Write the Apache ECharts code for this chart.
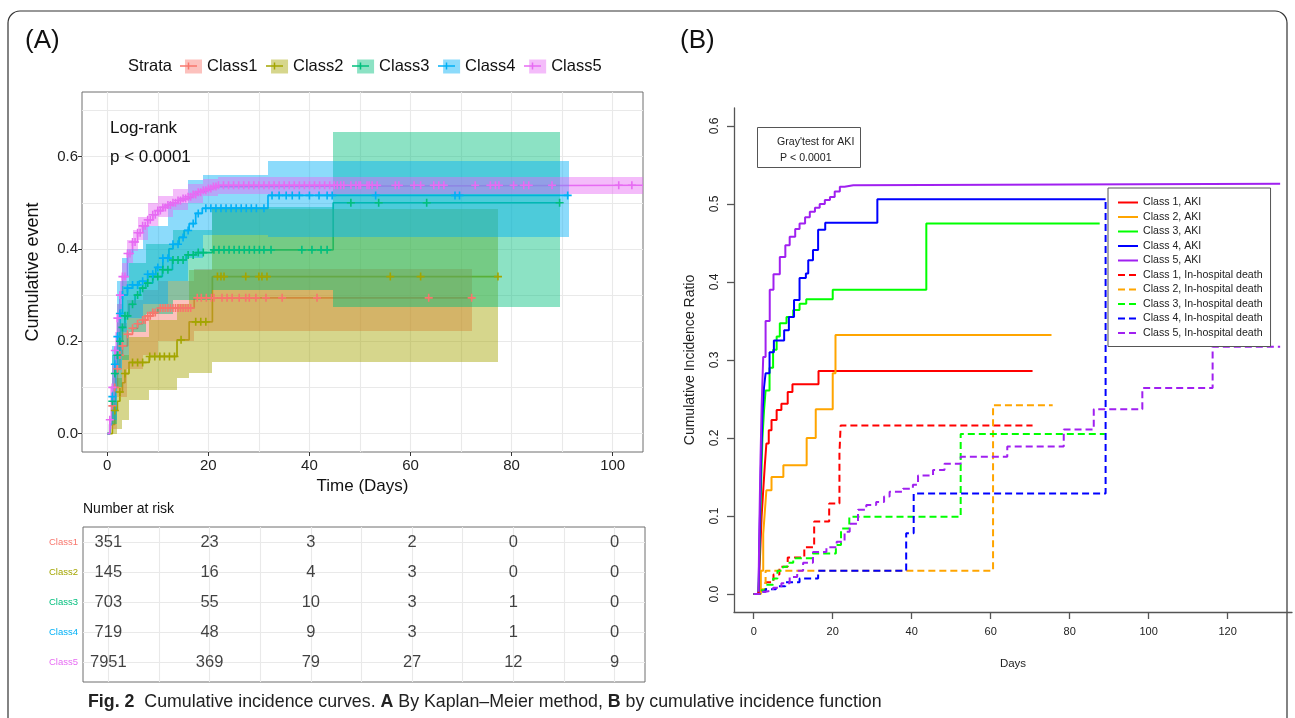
<!DOCTYPE html>
<html><head><meta charset="utf-8">
<script src="https://cdn.jsdelivr.net/npm/echarts@6/dist/echarts.min.js"></script>
<style>html,body{margin:0;padding:0;background:#fff}#c{width:1295px;height:718px}</style>
</head><body><div id="c"></div>
<script>
// ---------------- Panel A: Kaplan–Meier ----------------
const classNames = ['Class1', 'Class2', 'Class3', 'Class4', 'Class5'];
const colorsA = ['#F8766D', '#A3A500', '#00BF7D', '#00B0F6', '#E76BF3'];
const xTicksA = [0, 20, 40, 60, 80, 100];
const yTicksA = [0, 0.2, 0.4, 0.6];
const xGridA = [0, 10, 20, 30, 40, 50, 60, 70, 80, 90, 100];
const yGridA = [0, 0.1, 0.2, 0.3, 0.4, 0.5, 0.6, 0.7];

const kmClass1 = [[0,0],[0.5,0.02],[1,0.06],[1.5,0.1],[2,0.14],[2.5,0.17],[3,0.19],[4,0.215],[5,0.228],[6,0.238],[7,0.246],[8,0.255],[9,0.262],[10,0.272],[17.2,0.294],[72.2,0.294]];
const kmClass2 = [[0,0],[1,0.02],[1.5,0.05],[2,0.07],[2.5,0.09],[3,0.11],[3.5,0.13],[4.3,0.154],[8.3,0.167],[13.8,0.203],[16.2,0.242],[20.8,0.34],[77.4,0.34]];
const kmClass3 = [[0,0],[0.5,0.02],[1,0.07],[1.5,0.13],[2,0.17],[2.5,0.2],[3,0.23],[3.5,0.255],[4.3,0.28],[5.5,0.3],[6.5,0.315],[7.6,0.326],[9,0.34],[10.9,0.355],[12.9,0.376],[15.6,0.387],[17.5,0.392],[20.8,0.398],[44.7,0.5],[89.5,0.5]];
const kmClass4 = [[0,0],[0.5,0.02],[1,0.08],[1.5,0.15],[2,0.21],[2.5,0.26],[3,0.3],[4,0.315],[5,0.322],[6.3,0.33],[8,0.345],[9.6,0.36],[11,0.38],[12.2,0.4],[13,0.41],[14.2,0.425],[15.2,0.44],[16.2,0.455],[17.5,0.477],[18.8,0.488],[31.8,0.516],[91.3,0.516]];
const kmClass5 = [[0,0],[0.5,0.03],[1,0.1],[1.5,0.18],[2,0.25],[2.5,0.3],[3,0.34],[4,0.39],[5,0.415],[6,0.435],[7,0.45],[8,0.463],[9,0.474],[10,0.483],[11,0.49],[12,0.495],[13,0.5],[14,0.505],[15,0.509],[16,0.513],[17,0.518],[18,0.523],[19,0.527],[20,0.531],[21,0.535],[22,0.538],[106,0.538]];

// confidence bands: [from, to, lower, upper]
const bandClass1 = [[1,2,0.01,0.12],[2,4,0.08,0.24],[4,7,0.14,0.29],[7,10,0.17,0.31],[10,17.2,0.2,0.33],[17.2,72.2,0.223,0.357]];
const bandClass2 = [[1,2,0,0.06],[2,3,0.01,0.12],[3,4.3,0.03,0.17],[4.3,8.3,0.073,0.21],[8.3,13.8,0.095,0.245],[13.8,16.2,0.12,0.28],[16.2,20.8,0.132,0.355],[20.8,77.4,0.156,0.486]];
const bandClass3 = [[1,2,0.02,0.17],[2,3,0.1,0.28],[3,4.3,0.16,0.33],[4.3,7.6,0.22,0.37],[7.6,13,0.26,0.41],[13,20.8,0.29,0.44],[20.8,44.7,0.31,0.49],[44.7,89.5,0.275,0.653]];
const bandClass4 = [[1,2,0.03,0.19],[2,3,0.14,0.33],[3,4,0.22,0.38],[4,7,0.25,0.4],[7,12,0.28,0.45],[12,16,0.33,0.5],[16,19,0.38,0.55],[19,31.8,0.43,0.56],[31.8,91.3,0.426,0.59]];
const bandClass5 = [[0.5,1,0.01,0.1],[1,1.5,0.07,0.15],[1.5,2,0.14,0.22],[2,2.5,0.22,0.28],[2.5,3,0.27,0.33],[3,4,0.32,0.37],[4,5,0.37,0.42],[5,6,0.395,0.44],[6,8,0.42,0.47],[8,10,0.45,0.5],[10,13,0.47,0.515],[13,16,0.485,0.53],[16,19,0.5,0.54],[19,22,0.515,0.552],[22,106,0.52,0.556]];

// censoring times
const censorClass1 = [1,1.5,2,2.5,3,4,5,6,7,7.5,8,8.5,9,9.5,10.5,11,11.5,12,12.5,13,13.5,14,14.5,15,15.5,16,16.5,17.8,18.6,19.6,20.6,21.1,22.7,23.7,24.7,26.1,27.4,28.1,29.4,31.4,34.6,41.5,63.6,72.1];
const censorClass2 = [1.5,2.5,3.5,5,6,7,8.4,9.4,10.4,11.3,12.3,13.3,14.6,17.5,18.5,19.5,21.8,22.5,23.1,27.4,30,30.6,31.6,56,62,77.3];
const censorClass3 = [1,1.5,2,2.5,3,3.5,4,5,6,7,8,9,10,11,12,13,14,15,16,17,18,19,21.1,22.1,23.1,24.1,25.1,26.1,27.1,28.1,29.1,30.1,31,32.4,38.5,40.5,42.3,43.5,48.2,53.7,63.2,89.5];
const censorClass4 = [1,1.5,2,2.5,3,4,5,6,7,8,9,10,11,12,13,14,15,16,17,18,19.5,20.5,21.5,22.5,23.5,24.5,25.5,26.5,27.5,28.5,29.5,31,32.6,34,35.4,36.6,38,40,41.9,43.5,44.5,53.1,68.8,69.7,91.1];
const censorClass5 = [0.5,1,1.5,2,2.5,3,3.5,4,4.5,5,5.5,6,6.5,7,7.5,8,8.5,9,9.5,10,10.5,11,11.5,12,12.5,13,13.5,14,14.5,15,15.5,16,16.5,17,17.5,18,18.5,19,19.5,20,20.5,21,21.5,22,23,24,25,26,27,28,29,30,31,32,33,34,35,36,37,38,39,40,41,42,43,44,44.9,45.5,46.2,46.8,48.2,49.2,49.8,50.1,51.4,51.8,52.4,53.4,57,57.7,60.7,62,64.6,65.6,66.6,72.8,75.8,76.8,77.5,80.4,82.4,83.4,88,101.2,103.8];

// number at risk
const riskTimes = [0, 20, 40, 60, 80, 100];
const riskClass1 = [351, 23, 3, 2, 0, 0];
const riskClass2 = [145, 16, 4, 3, 0, 0];
const riskClass3 = [703, 55, 10, 3, 1, 0];
const riskClass4 = [719, 48, 9, 3, 1, 0];
const riskClass5 = [7951, 369, 79, 27, 12, 9];

// ---------------- Panel B: cumulative incidence ----------------
const namesB = ['Class 1, AKI','Class 2, AKI','Class 3, AKI','Class 4, AKI','Class 5, AKI',
  'Class 1, In-hospital death','Class 2, In-hospital death','Class 3, In-hospital death','Class 4, In-hospital death','Class 5, In-hospital death'];
const colorsB = ['#FF0000','#FFA500','#00FF00','#0000FF','#A020F0'];
const xTicksB = [0, 20, 40, 60, 80, 100, 120];
const yTicksB = [0, 0.1, 0.2, 0.3, 0.4, 0.5, 0.6];

const akiClass1 = [[0,0],[1.2,0],[1.6,0.05],[2,0.1],[2.4,0.133],[2.8,0.165],[3.2,0.193],[3.8,0.21],[4.5,0.223],[5.8,0.236],[7,0.244],[8.6,0.259],[9.8,0.269],[16.4,0.286],[70.6,0.286]];
const akiClass2 = [[0,0],[1.2,0],[1.8,0.03],[2.4,0.077],[2.8,0.105],[3.2,0.133],[4.5,0.15],[7.5,0.165],[13.4,0.2],[15.7,0.237],[20,0.283],[20.7,0.332],[75.4,0.332]];
const akiClass3 = [[0,0],[1.2,0],[1.5,0.06],[1.8,0.13],[2.2,0.2],[2.6,0.235],[3,0.261],[4,0.29],[4.9,0.313],[5.8,0.33],[6.6,0.347],[8.3,0.355],[10,0.364],[11.6,0.372],[13.3,0.378],[20,0.39],[43.7,0.475],[87.6,0.475]];
const akiClass4 = [[0,0],[1.2,0],[1.5,0.08],[1.8,0.16],[2.2,0.23],[2.6,0.265],[3,0.283],[4,0.31],[5.1,0.325],[7.7,0.338],[8.9,0.355],[10.2,0.377],[11.6,0.405],[13.2,0.411],[13.8,0.428],[15,0.441],[16.3,0.467],[18.1,0.476],[31.3,0.506],[89.1,0.506]];
const akiClass5 = [[0,0],[1.2,0],[1.4,0.08],[1.7,0.17],[2,0.24],[2.4,0.304],[3,0.35],[4.05,0.39],[5,0.41],[6.6,0.432],[8,0.447],[9.1,0.458],[10.5,0.468],[11.6,0.475],[13,0.483],[14.2,0.49],[15.5,0.495],[16.7,0.5],[18,0.505],[19.3,0.509],[20.5,0.516],[21.8,0.522],[23,0.524],[25.2,0.526],[133.3,0.526]];
const deathClass1 = [[0,0],[1.2,0.005],[3,0.015],[5,0.025],[6.5,0.035],[8.6,0.047],[12.8,0.06],[15.3,0.093],[19.1,0.116],[21.7,0.18],[22,0.216],[70.6,0.216]];
const deathClass2 = [[0,0],[1.5,0.006],[3,0.03],[60.6,0.242],[75.7,0.242]];
const deathClass3 = [[0,0],[1.5,0.005],[3,0.012],[4.9,0.02],[6,0.03],[7.4,0.035],[8.5,0.04],[10,0.046],[15,0.052],[20.8,0.063],[22.1,0.084],[24.2,0.099],[52.4,0.205],[88.9,0.205]];
const deathClass4 = [[0,0],[1.5,0.003],[3,0.006],[5.6,0.01],[8,0.015],[11.6,0.02],[16.3,0.03],[38.6,0.078],[40.5,0.129],[89.1,0.505]];
const deathClass5 = [[0,0],[1.5,0.003],[3,0.005],[4.9,0.008],[7,0.014],[9.1,0.022],[11,0.03],[12.5,0.04],[15,0.054],[18.4,0.06],[21,0.067],[23,0.08],[24.3,0.09],[26.4,0.108],[28.5,0.114],[31,0.118],[33,0.125],[34.4,0.131],[37.8,0.135],[40.3,0.14],[41.6,0.152],[45.4,0.159],[48.3,0.167],[52.4,0.176],[64.2,0.189],[78.5,0.211],[86.1,0.237],[98.4,0.264],[116.2,0.317],[133.3,0.317]];

// ---------------- build ----------------
const FA = "'Liberation Sans', Arial, sans-serif";
const T = 'rgba(0,0,0,0)';
const GRID = '#e9e9e9';
function rgba(hex, a) {
  const n = parseInt(hex.slice(1), 16);
  return 'rgba(' + (n >> 16) + ',' + ((n >> 8) & 255) + ',' + (n & 255) + ',' + a + ')';
}
function stepAt(curve, t) {
  let v = curve[0][1];
  for (const p of curve) { if (p[0] <= t) v = p[1]; }
  return v;
}
const PLUS = 'path://M3.2,0H4.8V3.2H8V4.8H4.8V8H3.2V4.8H0V3.2H3.2Z';

const kmAll = [kmClass1, kmClass2, kmClass3, kmClass4, kmClass5];
const bandAll = [bandClass1, bandClass2, bandClass3, bandClass4, bandClass5];
const censorAll = [censorClass1, censorClass2, censorClass3, censorClass4, censorClass5];
const riskAll = [riskClass1, riskClass2, riskClass3, riskClass4, riskClass5];
const bCurves = [akiClass1, akiClass2, akiClass3, akiClass4, akiClass5, deathClass1, deathClass2, deathClass3, deathClass4, deathClass5];

const series = [];
classNames.forEach((nm, i) => {
  const fill = rgba(colorsA[i], 0.45);
  series.push({
    type: 'custom', name: nm, xAxisIndex: 0, yAxisIndex: 0, z: 3, silent: true,
    itemStyle: { color: fill },
    encode: { x: [0, 1], y: [2, 3] },
    data: bandAll[i],
    renderItem: function (params, api) {
      const a = api.coord([api.value(0), api.value(3)]);
      const b = api.coord([api.value(1), api.value(2)]);
      const x0 = Math.round(a[0]), x1 = Math.round(b[0]), y0 = Math.round(a[1]), y1 = Math.round(b[1]);
      return { type: 'rect', shape: { x: x0, y: y0, width: x1 - x0, height: y1 - y0 }, style: { fill: fill } };
    }
  });
});
// grid lines of panel A and of the risk table (drawn through the axes)
series.push({
  type: 'line', name: 'gridA', xAxisIndex: 0, yAxisIndex: 0, z: 0, silent: true, data: [],
  markLine: { silent: true, z: 1, symbol: 'none', label: { show: false }, animation: false,
    lineStyle: { color: GRID, width: 1.1, type: 'solid' },
    data: xGridA.map(v => ({ xAxis: v })).concat(yGridA.map(v => ({ yAxis: v }))) }
});
series.push({
  type: 'line', name: 'gridT', xAxisIndex: 1, yAxisIndex: 1, z: 0, silent: true, data: [],
  markLine: { silent: true, z: 1, symbol: 'none', label: { show: false }, animation: false,
    lineStyle: { color: GRID, width: 1.1, type: 'solid' },
    data: xGridA.map(v => ({ xAxis: v })).concat([1, 2, 3, 4, 5].map(v => ({ yAxis: v }))) }
});
classNames.forEach((nm, i) => {
  series.push({
    type: 'line', name: nm, xAxisIndex: 0, yAxisIndex: 0, z: 2, step: 'end', symbol: 'none', silent: true,
    lineStyle: { color: colorsA[i], width: 1.7 }, itemStyle: { color: colorsA[i] },
    data: kmAll[i]
  });
});
classNames.forEach((nm, i) => {
  series.push({
    type: 'scatter', name: nm, xAxisIndex: 0, yAxisIndex: 0, z: 4, silent: true,
    symbol: PLUS, symbolSize: 8, itemStyle: { color: colorsA[i], opacity: 1 },
    data: censorAll[i].map(t => [t, stepAt(kmAll[i], t)])
  });
});
// risk table
classNames.forEach((nm, i) => {
  series.push({
    type: 'scatter', name: 'risk' + (i + 1), xAxisIndex: 1, yAxisIndex: 1, silent: true, z: 6,
    symbolSize: 1, itemStyle: { color: T },
    label: { show: true, position: 'inside', formatter: p => String(p.value[2]), fontSize: 16.5, color: '#111', fontFamily: FA },
    data: riskTimes.map((t, j) => [t, i + 1, riskAll[i][j]])
  });
});
// panel B
namesB.forEach((nm, k) => {
  const c = colorsB[k % 5];
  series.push({
    type: 'line', name: nm, xAxisIndex: 2, yAxisIndex: 2, step: 'end', symbol: 'none', silent: true,
    lineStyle: { color: c, width: 2, type: k < 5 ? 'solid' : [7, 4] }, itemStyle: { color: c },
    data: bCurves[k]
  });
});

// legend key decorations (line + cross inside each Strata key)
const keyDecor = [];
classNames.forEach((nm, i) => {
  const cx = 188.5 + i * 86;
  keyDecor.push({ type: 'line', z: 100, shape: { x1: cx - 8.5, y1: 66, x2: cx + 8.5, y2: 66 }, style: { stroke: colorsA[i], lineWidth: 1.5 } });
  keyDecor.push({ type: 'line', z: 100, shape: { x1: cx, y1: 62.5, x2: cx, y2: 69.5 }, style: { stroke: colorsA[i], lineWidth: 1.5 } });
});

const option = {
  animation: false,
  backgroundColor: '#fff',
  textStyle: { fontFamily: FA },
  grid: [
    { left: 82, top: 92, width: 561, height: 360, show: true, borderColor: '#6f6f6f', borderWidth: 1, backgroundColor: T },
    { left: 83, top: 527, width: 562, height: 155, show: true, borderColor: '#6f6f6f', borderWidth: 1, backgroundColor: T },
    { left: 734, top: 108, width: 558, height: 504 }
  ],
  xAxis: [
    { gridIndex: 0, type: 'value', min: -5, max: 106,
      axisLine: { show: false, onZero: false },
      axisTick: { show: true, customValues: xTicksA, length: 4, lineStyle: { color: '#333' } },
      axisLabel: { customValues: xTicksA, fontSize: 15, color: '#222', margin: 6 },
      splitLine: { show: false },
      name: 'Time (Days)', nameLocation: 'middle', nameGap: 22, nameTextStyle: { fontSize: 17, color: '#111' } },
    { gridIndex: 1, type: 'value', min: -5, max: 106,
      axisLine: { show: false, onZero: false }, axisTick: { show: false }, axisLabel: { show: false },
      splitLine: { show: false } },
    { gridIndex: 2, type: 'value', min: -5, max: 136.3,
      axisLine: { show: true, onZero: false, lineStyle: { color: '#555', width: 1.3 } },
      axisTick: { show: true, customValues: xTicksB, length: 7, lineStyle: { color: '#555', width: 1.3 } },
      axisLabel: { customValues: xTicksB, fontSize: 11, color: '#222', margin: 14 },
      splitLine: { show: false },
      name: 'Days', nameLocation: 'middle', nameGap: 46, nameTextStyle: { fontSize: 11.5, color: '#222' } }
  ],
  yAxis: [
    { gridIndex: 0, type: 'value', min: -0.04, max: 0.74,
      axisLine: { show: false, onZero: false },
      axisTick: { show: true, customValues: yTicksA, length: 4, lineStyle: { color: '#333' } },
      axisLabel: { customValues: yTicksA, formatter: v => Number(v).toFixed(1), fontSize: 15, color: '#222', margin: 4 },
      splitLine: { show: false },
      name: 'Cumulative event', nameLocation: 'middle', nameGap: 40, nameTextStyle: { fontSize: 18, color: '#111' } },
    { gridIndex: 1, type: 'value', min: 0.5, max: 5.66, inverse: true,
      axisLine: { show: false, onZero: false }, axisTick: { show: false },
      axisLabel: { customValues: [1, 2, 3, 4, 5], formatter: v => classNames[Math.round(v) - 1], fontSize: 9.5,
        color: (v) => colorsA[Math.round(Number(v)) - 1], margin: 5 },
      splitLine: { show: false } },
    { gridIndex: 2, type: 'value', min: -0.023, max: 0.623,
      axisLine: { show: true, onZero: false, lineStyle: { color: '#555', width: 1.3 } },
      axisTick: { show: true, customValues: yTicksB, length: 7, lineStyle: { color: '#555', width: 1.3 } },
      axisLabel: { customValues: yTicksB, formatter: v => Number(v).toFixed(1), rotate: 90, fontSize: 12, color: '#222', margin: 13 },
      splitLine: { show: false },
      name: 'Cumulative Incidence Ratio', nameLocation: 'middle', nameGap: 37, nameTextStyle: { fontSize: 14, color: '#222' } }
  ],
  legend: [
    { data: classNames, left: 180, top: 53, icon: 'rect', itemWidth: 17, itemHeight: 14, itemGap: 13.6,
      selectedMode: false, textStyle: { fontSize: 16.5, color: '#111', fontFamily: FA } },
    { data: namesB, orient: 'vertical', left: 1108, top: 188, itemWidth: 20, itemHeight: 12, itemGap: 3.5,
      padding: [9, 8, 8, 9], borderColor: '#555', borderWidth: 1, backgroundColor: '#fff', selectedMode: false,
      itemStyle: { color: T, borderWidth: 0, opacity: 0 },
      textStyle: { fontSize: 10.6, color: '#222', fontFamily: FA } }
  ],
  graphic: [
    { type: 'rect', z: -10, shape: { x: 8, y: 11, width: 1279, height: 760, r: 12 }, style: { fill: 'none', stroke: '#333', lineWidth: 1.2 } },
    { type: 'text', z: 50, x: 25, y: 41, style: { text: '(A)', font: '26px ' + FA, fill: '#111', verticalAlign: 'middle' } },
    { type: 'text', z: 50, x: 680, y: 41, style: { text: '(B)', font: '26px ' + FA, fill: '#111', verticalAlign: 'middle' } },
    { type: 'text', z: 50, x: 128, y: 66, style: { text: 'Strata', font: '16.5px ' + FA, fill: '#111', verticalAlign: 'middle' } },
    { type: 'text', z: 50, x: 110, y: 128, style: { text: 'Log-rank', font: '17px ' + FA, fill: '#111', verticalAlign: 'middle' } },
    { type: 'text', z: 50, x: 110, y: 157, style: { text: 'p < 0.0001', font: '17px ' + FA, fill: '#111', verticalAlign: 'middle' } },
    { type: 'text', z: 50, x: 83, y: 509, style: { text: 'Number at risk', font: '14px ' + FA, fill: '#111', verticalAlign: 'middle' } },
    { type: 'rect', z: 50, shape: { x: 757.5, y: 127.5, width: 103, height: 40 }, style: { fill: '#fff', stroke: '#555', lineWidth: 1 } },
    { type: 'text', z: 51, x: 777, y: 142, style: { text: "Gray'test for AKI", font: '10.6px ' + FA, fill: '#222', verticalAlign: 'middle' } },
    { type: 'text', z: 51, x: 780, y: 158, style: { text: 'P < 0.0001', font: '10.6px ' + FA, fill: '#222', verticalAlign: 'middle' } },
    { type: 'text', z: 50, x: 88, y: 702, style: {
        text: '{b|Fig. 2}  Cumulative incidence curves. {b|A} By Kaplan–Meier method, {b|B} by cumulative incidence function',
        font: '17.8px ' + FA, fill: '#222', verticalAlign: 'middle',
        rich: { b: { fontWeight: 'bold', fontSize: 17.8, fontFamily: FA, fill: '#222' } } } }
  ].concat(keyDecor),
  series: series
};
const chart = echarts.init(document.getElementById('c'), null, { renderer: 'canvas' });
chart.setOption(option);
</script>
</body></html>
